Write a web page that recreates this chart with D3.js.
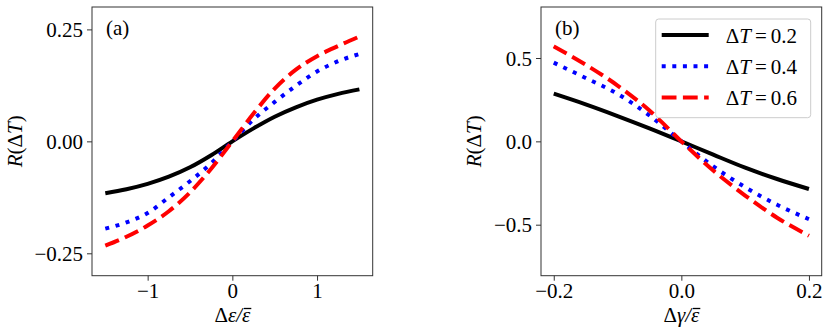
<!DOCTYPE html>
<html>
<head>
<meta charset="utf-8">
<script src="https://cdn.jsdelivr.net/npm/d3@7"></script>
<style>
  body { margin: 0; background: #fff; }
  svg text { font-family: 'Liberation Serif', 'Times New Roman', Times, 'DejaVu Serif', serif; }
</style>
</head>
<body>
<svg id="chart" width="830" height="336"></svg>
<script>
// panel (a): R(dT) vs d_eps / eps_bar
const epsX = [-1.5, -1.25, -1, -0.75, -0.5, -0.25, 0, 0.25, 0.5, 0.75, 1, 1.25, 1.5];
const aT02 = [-0.116, -0.107, -0.095, -0.079, -0.058, -0.031, 0, 0.029, 0.055, 0.076, 0.093, 0.106, 0.116];
const aT04 = [-0.195, -0.181, -0.16, -0.125, -0.089, -0.049, 0, 0.049, 0.088, 0.124, 0.156, 0.179, 0.195];
const aT06 = [-0.233, -0.213, -0.188, -0.156, -0.114, -0.061, 0, 0.062, 0.118, 0.16, 0.19, 0.213, 0.234];

// panel (b): R(dT) vs d_gamma / eps_bar
const gamX = [-0.2, -0.15, -0.1, -0.05, 0, 0.05, 0.1, 0.15, 0.2];
const bT02 = [0.286, 0.222, 0.152, 0.078, 0, -0.08, -0.158, -0.226, -0.286];
const bT04 = [0.472, 0.38, 0.285, 0.155, 0, -0.15, -0.275, -0.38, -0.467];
const bT06 = [0.57, 0.46, 0.335, 0.185, 0, -0.175, -0.325, -0.458, -0.566];

const aXTicks = [-1, 0, 1];
const aYTicks = [-0.25, 0, 0.25];
const bXTicks = [-0.2, 0, 0.2];
const bYTicks = [-0.5, 0, 0.5];
const legendLabels = ['0.2', '0.4', '0.6'];

const styles = [
  { color: '#000000', dash: null },
  { color: '#0000ff', dash: '4,6.6' },
  { color: '#ff0000', dash: '14.8,6.4' }
];

const serif = "'Liberation Serif', 'Times New Roman', Times, serif";
const svg = d3.select('#chart');
const plotTop = 7, plotBottom = 275.7;
const minus = s => s.replace('-', '\u2212');

function panel(opts) {
  const x = d3.scaleLinear().domain(opts.xDomain).range([opts.left, opts.right]);
  const y = d3.scaleLinear().domain(opts.yDomain).range([plotBottom, plotTop]);
  const g = svg.append('g').attr('font-family', serif);

  const line = d3.line()
    .x(d => x(d[0]))
    .y(d => y(d[1]))
    .curve(d3.curveMonotoneX);

  opts.series.forEach((s, i) => {
    const pts = opts.xs.map((v, j) => [v, s[j]]);
    g.append('path')
      .datum(pts)
      .attr('fill', 'none')
      .attr('stroke', styles[i].color)
      .attr('stroke-width', 4)
      .attr('stroke-dasharray', styles[i].dash)
      .attr('d', line);
  });

  // frame
  g.append('rect')
    .attr('x', opts.left)
    .attr('y', plotTop)
    .attr('width', opts.right - opts.left)
    .attr('height', plotBottom - plotTop)
    .attr('fill', 'none')
    .attr('stroke', '#333')
    .attr('stroke-width', 1);

  const xAxis = g.append('g')
    .attr('transform', 'translate(0,' + plotBottom + ')')
    .call(d3.axisBottom(x).tickValues(opts.xTicks).tickSize(5).tickPadding(3)
      .tickFormat(d => minus(d3.format(opts.xFmt)(d))));
  const yAxis = g.append('g')
    .attr('transform', 'translate(' + opts.left + ',0)')
    .call(d3.axisLeft(y).tickValues(opts.yTicks).tickSize(5).tickPadding(4)
      .tickFormat(d => minus(d3.format(opts.yFmt)(d))));
  [xAxis, yAxis].forEach(a => {
    a.attr('font-family', serif);
    a.select('.domain').remove();
    a.selectAll('line').attr('stroke', '#333');
    a.selectAll('text').attr('font-size', 21).attr('fill', '#000');
  });
  xAxis.selectAll('text').attr('dy', '0.7em');
  yAxis.selectAll('text').attr('dy', '0.34em');

  // panel tag
  g.append('text')
    .attr('x', opts.left + 14)
    .attr('y', 35)
    .attr('font-size', 21)
    .text(opts.tag);

  // y label
  const yl = g.append('text')
    .attr('transform', 'translate(' + opts.yLabelX + ',' + ((plotTop + plotBottom) / 2) + ') rotate(-90)')
    .attr('text-anchor', 'middle')
    .attr('font-size', 21);
  yl.append('tspan').attr('font-style', 'italic').text('R');
  yl.append('tspan').text('(\u0394');
  yl.append('tspan').attr('font-style', 'italic').text('T');
  yl.append('tspan').text(')');

  // x label, with a bar drawn over the last epsilon
  const xl = g.append('text')
    .attr('x', (opts.left + opts.right) / 2)
    .attr('y', 321.5)
    .attr('text-anchor', 'middle')
    .attr('font-size', 21);
  xl.append('tspan').text('\u0394');
  xl.append('tspan').attr('font-style', 'italic').text(opts.sym + '/\u03b5');
  const node = xl.node();
  const n = node.getNumberOfChars();
  const x0 = node.getStartPositionOfChar(n - 1).x;
  const x1 = node.getEndPositionOfChar(n - 1).x;
  g.append('line')
    .attr('x1', x0 + 2).attr('x2', x1 + 1)
    .attr('y1', 308.5).attr('y2', 308.5)
    .attr('stroke', '#000')
    .attr('stroke-width', 1.3);

  return { x, y, g };
}

panel({
  left: 92, right: 372.7,
  xDomain: [-1.657, 1.657], yDomain: [-0.3, 0.3],
  xs: epsX, series: [aT02, aT04, aT06],
  xTicks: aXTicks, yTicks: aYTicks, xFmt: 'd', yFmt: '.2f',
  tag: '(a)', yLabelX: 22, sym: '\u03b5'
});

panel({
  left: 541, right: 821.7,
  xDomain: [-0.22, 0.22], yDomain: [-0.806, 0.806],
  xs: gamX, series: [bT02, bT04, bT06],
  xTicks: bXTicks, yTicks: bYTicks, xFmt: '.1f', yFmt: '.1f',
  tag: '(b)', yLabelX: 481, sym: '\u03b3'
});

// legend
const leg = svg.append('g')
  .attr('font-family', serif)
  .attr('transform', 'translate(655.7,19)');
leg.append('rect')
  .attr('width', 155)
  .attr('height', 98.7)
  .attr('rx', 3)
  .attr('fill', 'rgba(255,255,255,0.8)')
  .attr('stroke', '#cccccc')
  .attr('stroke-width', 1);
legendLabels.forEach((lab, i) => {
  const ry = 16 + i * 31.3;
  leg.append('line')
    .attr('x1', 6).attr('x2', 53)
    .attr('y1', ry).attr('y2', ry)
    .attr('stroke', styles[i].color)
    .attr('stroke-width', 4)
    .attr('stroke-dasharray', styles[i].dash);
  const t = leg.append('text')
    .attr('x', 70)
    .attr('y', ry + 7.5)
    .attr('font-size', 21);
  t.append('tspan').text('\u0394');
  t.append('tspan').attr('font-style', 'italic').text('T');
  t.append('tspan').attr('dx', 4).text('=');
  t.append('tspan').attr('dx', 4).text(lab);
});
</script>
</body>
</html>
